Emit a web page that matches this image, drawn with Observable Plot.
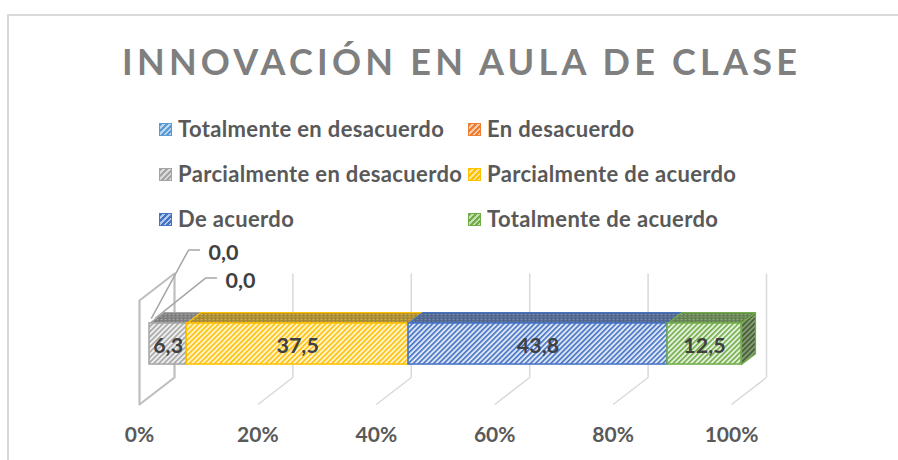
<!DOCTYPE html>
<html><head><meta charset="utf-8">
<script src="https://cdn.jsdelivr.net/npm/d3@7"></script>
<script src="https://cdn.jsdelivr.net/npm/@observablehq/plot@0.6"></script>
<style>
html,body{margin:0;padding:0;background:#fff;}
body{width:898px;height:460px;overflow:hidden;position:relative;font-family:Lato,"Open Sans",sans-serif;}
#frame{position:absolute;left:7px;top:14px;width:1000px;height:600px;border-top:2px solid #d9d9d9;border-left:2px solid #d9d9d9;box-sizing:border-box;}
#title{position:absolute;top:39px;left:122px;white-space:nowrap;font-weight:700;font-size:36px;color:#7f7f7f;line-height:normal;}
.leg{position:absolute;height:26px;display:flex;align-items:center;white-space:nowrap;font-weight:700;font-size:22px;letter-spacing:0.35px;color:#595959;line-height:1;}
.sw{width:11px;height:11px;margin-right:6px;border:1px solid;flex:none;}
#chart{position:absolute;left:0;top:236px;}
</style></head><body>
<div id="frame"></div>
<div id="title">INNOVACIÓN EN AULA DE CLASE</div>
<div id="legend"></div>
<div id="chart"></div>
<script>
// ---- data ----
const title = "INNOVACIÓN EN AULA DE CLASE";
const categories = ["Totalmente en desacuerdo", "En desacuerdo", "Parcialmente en desacuerdo", "Parcialmente de acuerdo", "De acuerdo", "Totalmente de acuerdo"];
const values = [0.0, 0.0, 6.3, 37.5, 43.8, 12.5];
const xTicks = [0, 20, 40, 60, 80, 100];

// ---- style ----
const colors = ["#5b9bd5", "#ed7d31", "#a5a5a5", "#ffc000", "#4472c4", "#70ad47"];
const W = 898, H = 224;
const X_RANGE = [139, 731];          // front floor edge, px
const Y_RANGE = [168, 64];           // floor .. wall top, px
const PXX = (X_RANGE[1] - X_RANGE[0]) / 100;
const PXY = Y_RANGE[0] - Y_RANGE[1];
const DEPTH_PX = [35, 27];           // oblique projection of full depth
const KX = DEPTH_PX[0] / PXX, KY = DEPTH_PX[1] / PXY;
const ZF = 10 / 35, ZB = ZF + 14 / 35;   // bar front / back depth
const HB = 0.31, HT = 0.705;             // bar bottom / top height
const LEADER_PX = [
  {start: [-5, 0], elbow: [32, -68], end: [43, -68], text: [52, -66]},
  {start: [-1, 0], elbow: [49, -40], end: [60, -40], text: [69, -38]}
];
const LEG_X = [159, 468], LEG_Y = [129, 174, 219];

const P = (p, z, h) => ({x: p + z * KX, y: h + z * KY});
const fmt = v => d3.format(".1f")(v).replace(".", ",");

document.getElementById("title").textContent = title;

// legend
const leg = document.getElementById("legend");
categories.forEach((c, i) => {
  const el = document.createElement("div");
  el.className = "leg";
  el.style.left = LEG_X[i % 2] + "px";
  el.style.top = (LEG_Y[Math.floor(i / 2)] - 13) + "px";
  const light = d3.interpolateRgb(colors[i], "#fff")(0.6);
  el.innerHTML = `<span class="sw" style="border-color:${colors[i]};background:repeating-linear-gradient(135deg, ${colors[i]} 0 2px, ${light} 2px 4px)"></span><span>${c}</span>`;
  leg.appendChild(el);
});

// segments
const total = d3.sum(values);
let acc = 0;
const segs = categories.map((c, i) => {
  const p0 = acc / total * 100; acc += values[i]; const p1 = acc / total * 100;
  return {c, i, v: values[i], p0, p1};
});
const drawn = segs.filter(d => d.v > 0);
const zeros = segs.filter(d => d.v === 0);
const last = drawn[drawn.length - 1];

const poly = (corners, key) => corners.map(([p, z, h]) => ({...P(p, z, h), key}));

const topPts = drawn.flatMap(d => poly([[d.p0, ZF, HT], [d.p1, ZF, HT], [d.p1, ZB, HT], [d.p0, ZB, HT], [d.p0, ZF, HT]], d.i));
const sidePts = poly([[last.p1, ZF, HB], [last.p1, ZF, HT], [last.p1, ZB, HT], [last.p1, ZB, HB], [last.p1, ZF, HB]], last.i);
const wallPts = poly([[0, 0, 1], [0, 0, 0], [0, 1, 0], [0, 1, 1], [0, 0, 1]], "wall");
const gridTicks = xTicks.filter(t => t > 0);

const anchor = d => P(d.p0, (ZF + ZB) / 2, HT);
const off = (a, [px, py]) => ({x: a.x + px / PXX, y: a.y - py / PXY});
const leaderPts = zeros.flatMap((d, k) => {
  const a = anchor(d), L = LEADER_PX[k];
  return [off(a, L.start), off(a, L.elbow), off(a, L.end)].map(o => ({...o, k}));
});
const zeroLabels = zeros.map((d, k) => ({...off(anchor(d), LEADER_PX[k].text), text: fmt(d.v)}));

const svg = Plot.plot({
  width: W, height: H,
  marginLeft: X_RANGE[0], marginRight: W - X_RANGE[1],
  marginTop: Y_RANGE[1], marginBottom: H - Y_RANGE[0],
  x: {domain: [0, 100]},
  y: {domain: [0, 1], axis: null},
  color: {type: "identity"},
  style: {background: "transparent", overflow: "visible", fontFamily: "Lato, sans-serif"},
  marks: [
    // floor & back wall gridlines
    Plot.link(gridTicks, {x1: t => P(t, 0, 0).x, y1: t => P(t, 0, 0).y, x2: t => P(t, 1, 0).x, y2: t => P(t, 1, 0).y, stroke: "#d9d9d9", strokeWidth: 1.5}),
    Plot.link(gridTicks, {x1: t => P(t, 1, 0).x, y1: t => P(t, 1, 0).y, x2: t => P(t, 1, 1).x, y2: t => P(t, 1, 1).y, stroke: "#d9d9d9", strokeWidth: 1.5}),
    // left side wall
    Plot.line(wallPts, {x: "x", y: "y", z: "key", stroke: "#bfbfbf", strokeWidth: 2.2}),
    // bar: top faces, side face, front faces
    Plot.line(topPts, {x: "x", y: "y", z: "key", fill: d => `url(#top${d.key})`, stroke: d => colors[d.key], strokeWidth: 1.2, strokeLinejoin: "round"}),
    Plot.line(sidePts, {x: "x", y: "y", z: "key", fill: d => `url(#side${d.key})`, stroke: d => colors[d.key], strokeWidth: 1.2, strokeLinejoin: "round"}),
    Plot.rect(drawn, {x1: d => P(d.p0, ZF, HB).x, x2: d => P(d.p1, ZF, HB).x, y1: d => P(d.p0, ZF, HB).y, y2: d => P(d.p0, ZF, HT).y, fill: d => `url(#front${d.i})`, stroke: d => colors[d.i], strokeWidth: 1.5}),
    // data labels
    Plot.text(drawn, {x: d => P((d.p0 + d.p1) / 2, ZF, (HB + HT) / 2).x, y: d => P(0, ZF, (HB + HT) / 2).y, text: d => fmt(d.v), fontSize: 21.5, fontWeight: "bold", fill: "#404040", dy: 2}),
    // zero labels with leaders
    Plot.line(leaderPts, {x: "x", y: "y", z: "k", stroke: "#a6a6a6", strokeWidth: 1.5}),
    Plot.text(zeroLabels, {x: "x", y: "y", text: "text", textAnchor: "start", fontSize: 21.5, fontWeight: "bold", fill: "#404040", dy: 1}),
    // axis
    Plot.axisX(xTicks, {tickFormat: d => `${d}%`, tickSize: 0, tickPadding: 23, fontSize: 21, fontWeight: "bold", color: "#595959", fill: "#595959", label: null})
  ]
});

// patterns
const defs = d3.select(svg).insert("defs", ":first-child");
colors.forEach((c, i) => {
  const light = d3.interpolateRgb(c, "#fff")(0.82);
  const f = defs.append("pattern").attr("id", `front${i}`).attr("patternUnits", "userSpaceOnUse")
    .attr("width", 3.6).attr("height", 3.6).attr("patternTransform", "rotate(45)");
  f.append("rect").attr("width", 3.6).attr("height", 3.6).attr("fill", light);
  f.append("rect").attr("width", 1.6).attr("height", 3.6).attr("fill", c);
  const t = defs.append("pattern").attr("id", `top${i}`).attr("patternUnits", "userSpaceOnUse")
    .attr("width", 4).attr("height", 2.5);
  t.append("rect").attr("width", 4).attr("height", 2.5).attr("fill", d3.interpolateRgb(c, "#5a5a5a")(0.55));
  t.append("rect").attr("width", 2).attr("height", 1).attr("fill", d3.interpolateRgb(c, "#b0b0b0")(0.5));
  const s = defs.append("pattern").attr("id", `side${i}`).attr("patternUnits", "userSpaceOnUse")
    .attr("width", 3.6).attr("height", 3.6).attr("patternTransform", "rotate(45)");
  s.append("rect").attr("width", 3.6).attr("height", 3.6).attr("fill", d3.interpolateRgb(c, "#909090")(0.6));
  s.append("rect").attr("width", 1.8).attr("height", 3.6).attr("fill", d3.interpolateRgb(c, "#303030")(0.6));
});
document.getElementById("chart").appendChild(svg);

// fit title letter-spacing to its span
const TITLE_SPAN = [122, 797];
const tEl = document.getElementById("title");
const fit = () => {
  tEl.style.letterSpacing = "0px";
  const w = tEl.getBoundingClientRect().width;
  const n = title.length;
  tEl.style.letterSpacing = ((TITLE_SPAN[1] - TITLE_SPAN[0] - w) / (n - 1)) + "px";
};
fit();
if (document.fonts) document.fonts.ready.then(fit);
</script>
</body></html>
